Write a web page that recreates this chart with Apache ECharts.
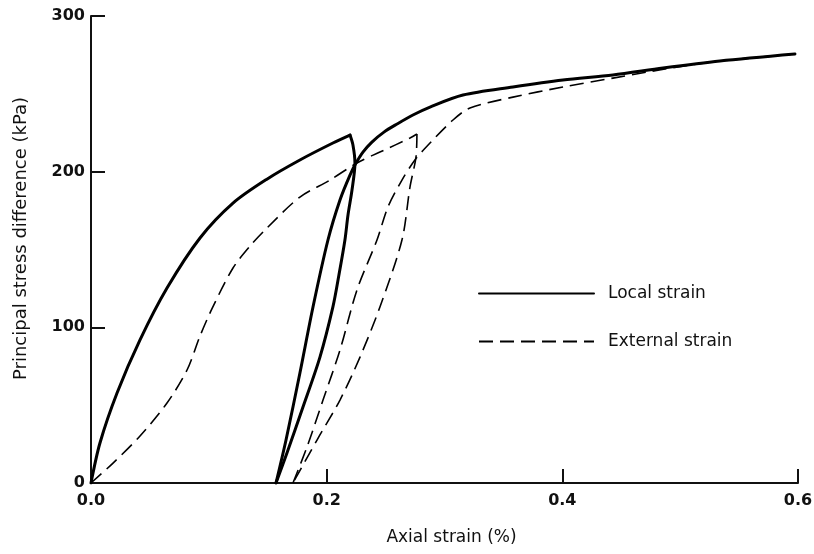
<!DOCTYPE html>
<html>
<head>
<meta charset="utf-8">
<script src="https://cdn.jsdelivr.net/npm/echarts@6/dist/echarts.min.js"></script>
<style>
    html,body{margin:0;padding:0;background:#fff;}
    #chart{width:814px;height:554px;}
</style>
</head>
<body>
<div id="chart"></div>
<script>
// 轴向应变 (%) / 主应力差 (kPa)
// 局部应变: 加载, 卸载, 再加载
let localLoadX=[0,0.0076,0.0221,0.0416,0.0645,0.0925,0.1205,0.1493,0.1773,0.2053,0.2198];
let localLoadY=[0,25.7,57.8,91.9,125.2,157.4,179.8,195.2,207.5,218.4,223.5];
let localUnloadX=[0.2198,0.2223,0.224,0.2215,0.2181,0.2155,0.2104,0.2053,0.1943,0.1799,0.1663,0.157];
let localUnloadY=[223.5,217.1,205.6,188.2,172.2,156.1,133.6,113.1,80.9,48.8,19.3,0];
let localReloadX=[0.157,0.1655,0.1773,0.1884,0.2011,0.2113,0.2198,0.2249,
    0.2308,0.2384,0.2486,0.2597,0.2732,0.2877,0.3157,0.3581,0.4005,0.4429,0.4854,0.5337,0.5974];
let localReloadY=[0,27.6,70.7,113.1,156.1,181.8,197.8,205.5,
    212.6,219,225.4,230.6,236.4,241.5,249.2,254.4,258.9,262.1,266.6,271.1,275.6];

// 外部应变
let extLoadX=[0,0.0187,0.0416,0.0645,0.0815,0.0925,0.1027,0.1205,0.1349,0.1493,0.1773,0.2028,0.2257,0.2452,0.2707,0.2766];
let extLoadY=[0,12.8,30.2,51.4,72.6,94.4,112,138.1,152.2,163.8,183.7,194.6,205.6,212.6,221.6,224.2];
let extUnloadX=[0.2766,0.2758,0.2707,0.2639,0.2452,0.2283,0.2113,0.1918,0.1714];
let extUnloadY=[224.2,209.4,190.1,156.1,113.1,80.9,53.3,27.6,0];
let extReloadX=[0.1714,0.1833,0.1969,0.2113,0.2257,0.2427,0.252,0.2639,0.2749,0.2877,0.3072,0.3216,0.3581,0.4005,0.4429,0.4718,0.5083,0.5337,0.5974];
let extReloadY=[0,23.1,53.3,85.4,124,156.1,177.3,194.6,207.5,218.4,233.2,240.9,247.9,254.4,260.1,264,268.5,271.1,275.6];

let seriesNames=['Local strain','External strain'];

function pairs(xs,ys){
    let arr=[];
    xs.forEach((x,i)=>{
        arr.push([x,ys[i]]);
    });
    return arr;
}

let solidStyle={color:'#000',width:3,join:'round',cap:'round'};
let dashStyle={color:'#000',width:1.6,type:[14,7]};

function seg(name,xs,ys,style){
    return {
        name:name,
        type:'line',
        symbol:'none',
        smooth:0.3,
        color:'#000',
        data:pairs(xs,ys),
        lineStyle:style
    };
}

let chart=echarts.init(document.getElementById('chart'));
let font='DejaVu Sans';
let option={
    animation:false,
    backgroundColor:'#fff',
    grid:{
        left:91,
        right:16,
        top:16,
        bottom:71,
        containLabel:false,
        outerBoundsMode:'none'
    },
    legend:{
        orient:'vertical',
        left:473,
        top:280,
        itemWidth:115,
        itemHeight:16,
        itemGap:31,
        data:seriesNames,
        itemStyle:{opacity:0},
        textStyle:{
            color:'#111',
            fontFamily:font,
            fontSize:17,
            padding:[0,0,0,9]
        }
    },
    xAxis:{
        type:'value',
        min:0,
        max:0.6,
        interval:0.2,
        name:'Axial strain (%)',
        nameLocation:'middle',
        nameGap:46,
        nameTextStyle:{
            color:'#111',
            fontFamily:font,
            fontSize:17,
            padding:[0,0,0,14]
        },
        splitLine:{show:false},
        axisLine:{lineStyle:{color:'#111',width:2}},
        axisTick:{inside:true,length:14,lineStyle:{color:'#111',width:2}},
        axisLabel:{
            color:'#111',
            fontFamily:font,
            fontSize:16,
            fontWeight:'bold',
            margin:10,
            formatter:function(v){return v.toFixed(1);}
        }
    },
    yAxis:{
        type:'value',
        min:0,
        max:300,
        interval:100,
        name:'Principal stress difference (kPa)',
        nameLocation:'middle',
        nameGap:61,
        nameTextStyle:{
            color:'#111',
            fontFamily:font,
            fontSize:18,
            padding:[0,0,0,22]
        },
        splitLine:{show:false},
        axisLine:{show:true,lineStyle:{color:'#111',width:2}},
        axisTick:{show:true,inside:true,length:14,lineStyle:{color:'#111',width:2}},
        axisLabel:{
            color:'#111',
            fontFamily:font,
            fontSize:16,
            fontWeight:'bold',
            margin:6
        }
    },
    series:[
        seg(seriesNames[0],localLoadX,localLoadY,solidStyle),
        seg(seriesNames[1],extLoadX,extLoadY,dashStyle),
        seg(seriesNames[0],localUnloadX,localUnloadY,solidStyle),
        seg(seriesNames[0],localReloadX,localReloadY,solidStyle),
        seg(seriesNames[1],extUnloadX,extUnloadY,dashStyle),
        seg(seriesNames[1],extReloadX,extReloadY,dashStyle)
    ]
};
chart.setOption(option);
</script>
</body>
</html>
